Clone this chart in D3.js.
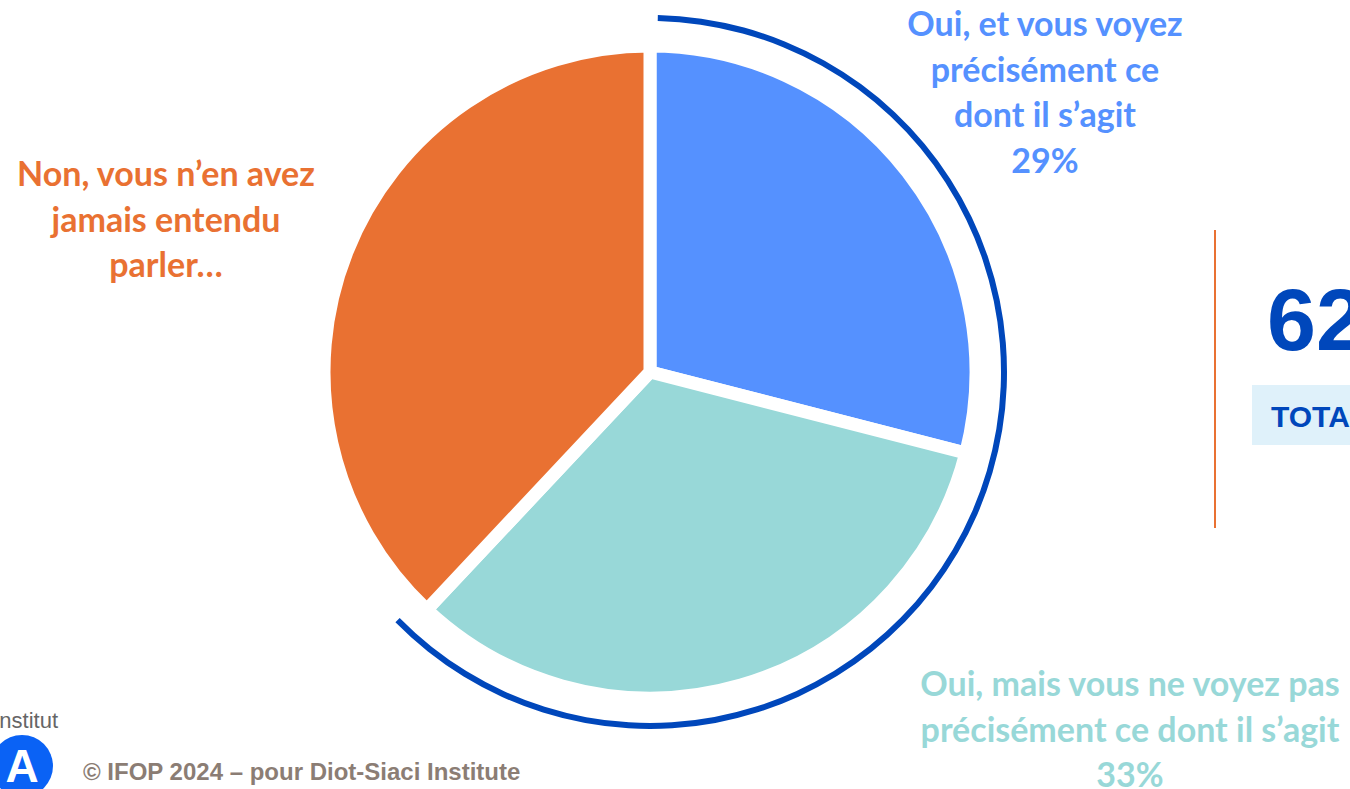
<!DOCTYPE html>
<html><head><meta charset="utf-8">
<script src="https://cdn.jsdelivr.net/npm/d3@7"></script>
<style>
html,body{margin:0;padding:0;background:#fff;overflow:hidden;}
svg{display:block;}
</style></head>
<body>
<svg id="chart" width="1350" height="789"></svg>
<script>
const categories = [
  "Oui, et vous voyez précisément ce dont il s’agit",
  "Oui, mais vous ne voyez pas précisément ce dont il s’agit",
  "Non, vous n’en avez jamais entendu parler…"
];
const values = [29, 33, 38];
const colors = ["#5591FF", "#98D8D8", "#E97132"];
const labelLines = [
  ["Oui, et vous voyez", "précisément ce", "dont il s’agit", "29%"],
  ["Oui, mais vous ne voyez pas", "précisément ce dont il s’agit", "33%"],
  ["Non, vous n’en avez", "jamais entendu", "parler…"]
];
const totalValue = "62%";
const totalLabel = "TOTAL OUI";
const footer = "© IFOP 2024 – pour Diot-Siaci Institute";

const svg = d3.select("#chart");
const cx = 650, cy = 372;
const g = svg.append("g").attr("transform", `translate(${cx},${cy})`);

const pie = d3.pie().sort(null).value(d => d);
const arcs = pie(values);
const arc = d3.arc().innerRadius(0).outerRadius(326);

g.selectAll("path.slice").data(arcs).enter().append("path")
  .attr("class", "slice")
  .attr("d", arc)
  .attr("fill", (d, i) => colors[i])
  .attr("stroke", "#fff")
  .attr("stroke-width", 13)
  .attr("stroke-linejoin", "miter");

// outer ring around the "Oui" slices
const ringArc = d3.arc().innerRadius(351).outerRadius(357)
  .startAngle(arcs[0].startAngle + 0.022)
  .endAngle(arcs[1].endAngle + 0.04);
g.append("path").attr("d", ringArc()).attr("fill", "#0047BB");

// labels
const font = "Lato, 'Open Sans', sans-serif";
const labelPos = [
  {x: 1045, y: 36},
  {x: 1130, y: 696},
  {x: 166, y: 186}
];
labelLines.forEach((lines, i) => {
  const t = svg.append("text")
    .attr("text-anchor", "middle")
    .attr("font-family", font)
    .attr("font-weight", "bold")
    .attr("font-size", 34)
    .attr("fill", colors[i]);
  lines.forEach((ln, j) => {
    t.append("tspan").attr("x", labelPos[i].x).attr("y", labelPos[i].y + j * 45.5).text(ln);
  });
});

// total panel
svg.append("line").attr("x1", 1215).attr("x2", 1215).attr("y1", 230).attr("y2", 528)
  .attr("stroke", "#E97132").attr("stroke-width", 2);
svg.append("text").attr("x", 1267).attr("y", 350)
  .attr("font-family", "Arial, 'Liberation Sans', sans-serif").attr("font-weight", "bold")
  .attr("font-size", 88).attr("fill", "#0047BB").text(totalValue);
svg.append("rect").attr("x", 1252).attr("y", 385).attr("width", 120).attr("height", 60).attr("fill", "#DFF1FA");
svg.append("text").attr("x", 1271).attr("y", 427)
  .attr("font-family", "Arial, 'Liberation Sans', sans-serif").attr("font-weight", "bold")
  .attr("font-size", 30).attr("fill", "#0047BB").text(totalLabel);

// logo + footer
svg.append("text").attr("x", 58).attr("y", 728).attr("text-anchor", "end")
  .attr("font-family", "Arial, 'Liberation Sans', sans-serif")
  .attr("font-size", 22).attr("fill", "#666").text("Institut");
svg.append("circle").attr("cx", 22).attr("cy", 766).attr("r", 31).attr("fill", "#0A62F5");
svg.append("text").attr("x", 22).attr("y", 782).attr("text-anchor", "middle")
  .attr("font-family", "Arial, sans-serif").attr("font-weight", "bold")
  .attr("font-size", 46).attr("fill", "#fff").text("A");
svg.append("text").attr("x", 83).attr("y", 780)
  .attr("font-family", "Arial, 'Liberation Sans', sans-serif").attr("font-weight", "bold")
  .attr("font-size", 24).attr("fill", "#8B7D74").text(footer);
</script>
</body></html>
